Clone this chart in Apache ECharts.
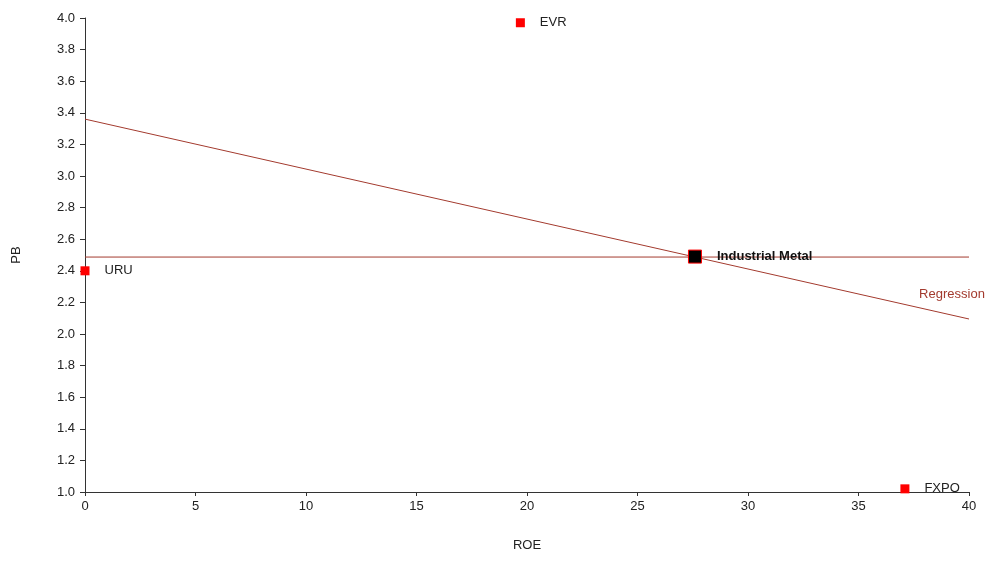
<!DOCTYPE html>
<html><head><meta charset="utf-8">
<script src="https://cdn.jsdelivr.net/npm/echarts@6/dist/echarts.min.js"></script>
<style>html,body{margin:0;padding:0;background:#fff}#c{width:986px;height:562px}</style>
</head><body><div id="c"></div>
<script>
const companies = ['EVR', 'URU', 'FXPO'];
const roe = [19.7, 0.0, 37.1];
const pb = [3.97, 2.40, 1.02];
const sectorName = 'Industrial Metal';
const sectorPoint = [27.6, 2.49];
const regressionX = [0, 40];
const regressionY = [3.36, 2.095];
const avgPB = 2.487;
const xTicks = [0, 40, 5];
const yTicks = [1.0, 4.0, 0.2];

const lineColor = '#a33a2e';
const chart = echarts.init(document.getElementById('c'));
chart.setOption({
  animation: false,
  textStyle: {fontFamily: 'Liberation Sans, Arial, sans-serif'},
  grid: {left: 85, right: 17, top: 18, bottom: 70},
  xAxis: {
    type: 'value', min: xTicks[0], max: xTicks[1], interval: xTicks[2],
    name: 'ROE', nameLocation: 'middle', nameGap: 47,
    nameTextStyle: {color: '#222', fontSize: 13},
    axisLine: {lineStyle: {color: '#333', width: 1}},
    axisTick: {show: true, length: 4, lineStyle: {color: '#333'}},
    axisLabel: {color: '#222', fontSize: 13, margin: 8},
    splitLine: {show: false}
  },
  yAxis: {
    type: 'value', min: yTicks[0], max: yTicks[1], interval: yTicks[2],
    name: 'PB', nameLocation: 'middle', nameGap: 62,
    nameTextStyle: {color: '#222', fontSize: 13},
    axisLine: {show: true, lineStyle: {color: '#333', width: 1}},
    axisTick: {show: true, length: 5, lineStyle: {color: '#333'}},
    axisLabel: {color: '#222', fontSize: 13, margin: 10, formatter: v => v.toFixed(1)},
    splitLine: {show: false}
  },
  series: [
    {
      type: 'line', data: [[xTicks[0], avgPB], [xTicks[1], avgPB]],
      symbol: 'none', lineStyle: {color: lineColor, width: 1}, z: 1
    },
    {
      type: 'line', data: regressionX.map((x, i) => [x, regressionY[i]]),
      symbol: 'none', lineStyle: {color: lineColor, width: 1}, z: 1
    },
    {
      type: 'scatter', symbolSize: 0, silent: true,
      itemStyle: {color: lineColor, opacity: 1},
      data: [{name: 'Regression', value: [regressionX[1], regressionY[1]]}],
      label: {show: true, position: 'top', offset: [-17, -13], formatter: p => p.name,
        color: lineColor, fontSize: 13, opacity: 1},
      z: 2
    },
    {
      type: 'scatter', symbol: 'rect', symbolSize: 9,
      itemStyle: {color: '#ff0000', opacity: 1},
      data: companies.map((n, i) => ({name: n, value: [roe[i], pb[i]]})),
      label: {show: true, position: 'right', distance: 15, formatter: p => p.name,
        color: '#222', fontSize: 13},
      z: 3
    },
    {
      type: 'scatter', symbol: 'rect', symbolSize: 13,
      itemStyle: {color: '#000', borderColor: '#ff0000', borderWidth: 1, opacity: 1},
      data: [{name: sectorName, value: sectorPoint}],
      label: {show: true, position: 'right', distance: 15, formatter: p => p.name,
        color: '#111', fontSize: 13, fontWeight: 'bold'},
      z: 4
    }
  ]
});
</script></body></html>
